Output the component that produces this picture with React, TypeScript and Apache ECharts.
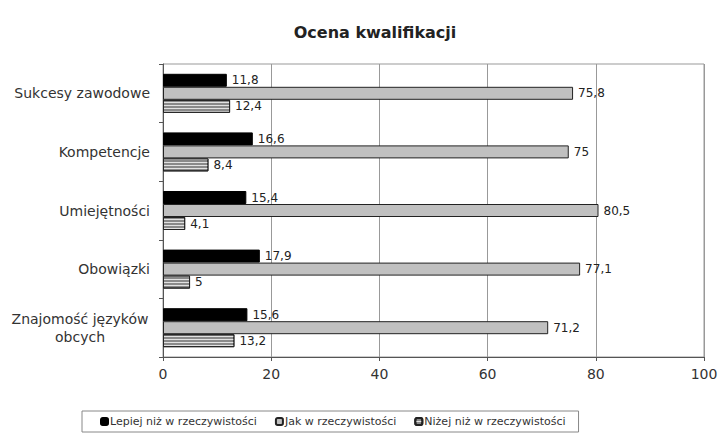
import React, { useEffect, useRef } from "react";
import * as echarts from "echarts";

const categories = [
  "Sukcesy zawodowe",
  "Kompetencje",
  "Umiejętności",
  "Obowiązki",
  "Znajomość języków\nobcych",
];
const seriesNames = [
  "Lepiej niż w rzeczywistości",
  "Jak w rzeczywistości",
  "Niżej niż w rzeczywistości",
];
const lepiej = [11.8, 16.6, 15.4, 17.9, 15.6];
const jak = [75.8, 75, 80.5, 77.1, 71.2];
const nizej = [12.4, 8.4, 4.1, 5, 13.2];
const xTicks = [0, 20, 40, 60, 80, 100];

const FONT = "DejaVu Sans, Verdana, sans-serif";

export default function App() {
  const ref = useRef<HTMLDivElement>(null);
  useEffect(() => {
    const chart = echarts.init(ref.current!, null, { renderer: "svg" });
    const label = {
      show: true,
      position: "right" as const,
      distance: 5,
      color: "#222",
      fontSize: 12,
      fontFamily: FONT,
      formatter: (p: any) => String(p.value).replace(".", ","),
    };
    chart.setOption({
      animation: false,
      backgroundColor: "#fff",
      title: {
        text: "Ocena kwalifikacji",
        left: 370,
        textAlign: "center",
        top: 19,
        textStyle: { fontSize: 16, fontWeight: "bold", color: "#222", fontFamily: FONT },
      },
      legend: {
        left: 82,
        top: 411,
        width: 500,
        padding: [5, 13, 5, 18],
        itemGap: 18,
        itemWidth: 7,
        itemHeight: 7,
        borderColor: "#888",
        borderWidth: 1,
        borderRadius: 0,
        textStyle: { fontSize: 11, color: "#333", fontFamily: FONT, padding: [0, 0, 0, -3] },
        data: seriesNames,
      },
      grid: {
        left: 163,
        right: 17,
        top: 64,
        bottom: 78,
        show: true,
        borderColor: "#999",
        borderWidth: 1,
      },
      xAxis: {
        type: "value",
        min: xTicks[0],
        max: xTicks[xTicks.length - 1],
        interval: 20,
        axisLine: { show: true, lineStyle: { color: "#555" } },
        axisTick: { show: true, length: 4, lineStyle: { color: "#555" } },
        axisLabel: { fontSize: 14, color: "#333", fontFamily: FONT, margin: 10 },
        splitLine: { show: true, lineStyle: { color: "#999", width: 1 } },
      },
      yAxis: {
        type: "category",
        inverse: true,
        data: categories.map((c) =>
          c.includes("\n")
            ? { value: c, textStyle: { align: "center", padding: [0, 140, 0, 0] } }
            : c
        ),
        axisLine: { show: true, lineStyle: { color: "#555" } },
        axisTick: { show: true, length: 4, lineStyle: { color: "#555" } },
        axisLabel: { fontSize: 14, color: "#333", fontFamily: FONT, margin: 13, lineHeight: 18 },
      },
      series: [
        {
          name: seriesNames[0],
          type: "bar",
          data: lepiej,
          barWidth: 13,
          barGap: "0%",
          barCategoryGap: "33%",
          itemStyle: { color: "#000", borderColor: "#000", borderWidth: 1 },
          label,
        },
        {
          name: seriesNames[1],
          type: "bar",
          data: jak,
          barWidth: 13,
          itemStyle: { color: "#c0c0c0", borderColor: "#222", borderWidth: 1 },
          label,
        },
        {
          name: seriesNames[2],
          type: "bar",
          data: nizej,
          barWidth: 13,
          itemStyle: {
            color: "#8a8a8a",
            borderColor: "#222",
            borderWidth: 1,
            decal: {
              symbol: "rect",
              symbolSize: 1,
              dashArrayX: [1, 0],
              dashArrayY: [1, 2],
              rotation: 0,
              color: "rgba(255,255,255,0.75)",
            },
          },
          label,
        },
      ],
    });
    return () => chart.dispose();
  }, []);
  return <div ref={ref} style={{ width: 721, height: 435, position: "absolute", left: 0, top: 0 }} />;
}
